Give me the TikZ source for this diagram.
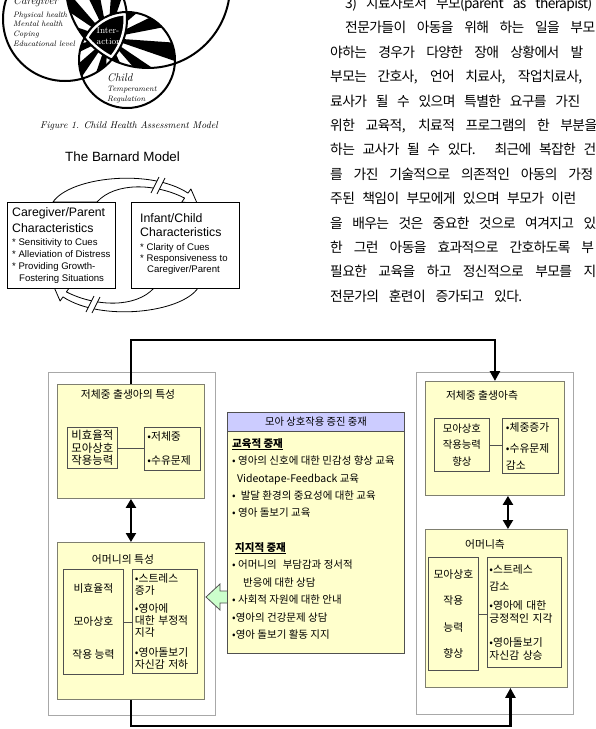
\documentclass[tikz,border=0pt]{standalone}
\usepackage{fontspec}
\usepackage{xcolor}
\usepackage{tikz}
\usetikzlibrary{arrows.meta,positioning,calc}
\newfontfamily\kr{Noto Sans CJK KR}
\newfontfamily\krtight[LetterSpace=-4.5]{Noto Sans CJK KR}
\newfontfamily\arl{Liberation Sans}
\definecolor{notepaper}{HTML}{FFFFCC}
\definecolor{noteedge}{HTML}{7F7F70}
\definecolor{celledge}{HTML}{505050}
\definecolor{wrapedge}{HTML}{A8A8A8}
\definecolor{headlilac}{HTML}{CCCCFF}
\definecolor{mint}{HTML}{CCFFCC}
\newcommand{\bodytext}[2]{\makebox[#1][s]{#2}}

\begin{document}
\begin{tikzpicture}[x=1pt,y=-1pt,
  wrapbox/.style={draw=wrapedge,fill=white,line width=0.9pt,anchor=north west,inner sep=0pt},
  notebox/.style={draw=noteedge,fill=notepaper,line width=0.9pt,anchor=north west,inner sep=0pt},
  cellbox/.style={draw=celledge,line width=0.8pt,anchor=north west,inner sep=0pt},
  kor/.style={anchor=base,inner sep=0pt,font=\kr\fontsize{10.8}{13}\selectfont},
  korline/.style={anchor=base west,inner sep=0pt,font=\kr\fontsize{10.5}{13}\selectfont},
  bodyline/.style={anchor=base west,inner sep=0pt,font=\krtight\fontsize{13.8}{15}\selectfont},
  flow/.style={line width=2.8pt,-{Triangle[length=10pt,width=10pt]}},
  twoway/.style={line width=2.8pt,{Triangle[length=9pt,width=10pt]}-{Triangle[length=9pt,width=10pt]}},
  tie/.style={draw=celledge,line width=0.8pt},
  loopband/.style={draw=black,fill=white,line width=0.8pt,line join=round},
  cbox/.style={draw=black,fill=white,line width=1pt,minimum width=108pt,minimum height=86pt,inner sep=0pt},
  ctitle/.style={anchor=base west,inner sep=0pt,font=\arl\fontsize{12.3}{15}\selectfont},
  citem/.style={anchor=base west,inner sep=0pt,font=\arl\fontsize{9.6}{12}\selectfont},
  vsmall/.style={anchor=base west,inner sep=0pt,font=\itshape\fontsize{7.8}{9}\selectfont},
  vbig/.style={anchor=base west,inner sep=0pt,font=\itshape\fontsize{11.2}{13}\selectfont}]
\useasboundingbox (0,0) rectangle (595,729);
\clip (0,0) rectangle (595,729);
\fill[white] (0,0) rectangle (595,729);

% three rings with the striped overlaps
\coordinate (cg) at (65,19);
\coordinate (ev) at (148,-14);
\coordinate (ch) at (127,60);
\coordinate (hub) at (108,38);
\foreach \pa/\ra/\pb/\rb in {cg/62/ev/82,cg/62/ch/48,ev/82/ch/48}{
  \begin{scope}
    \clip (\pa) circle[radius=\ra];
    \clip (\pb) circle[radius=\rb];
    \foreach \a in {0,30,...,330}
      \fill (hub) -- +(\a+4:130) -- +(\a+19:130) -- cycle;
  \end{scope}
}
\begin{scope}
  \clip (cg) circle[radius=62];
  \clip (ev) circle[radius=82];
  \clip (ch) circle[radius=48];
  \fill (60,0) rectangle (160,80);
  \draw[white,line width=7pt] (cg) circle[radius=62] (ev) circle[radius=82] (ch) circle[radius=48];
\end{scope}
\draw[line width=2pt] (cg) circle[radius=62] (ev) circle[radius=82] (ch) circle[radius=48];

\node[vbig] (cgname) at (13,4.5) {Caregiver};
\node[vsmall] (cg1) at (13,17) {Physical health};
\node[vsmall] (cg2) at (13,26.5) {Mental health};
\node[vsmall] (cg3) at (13,36) {Coping};
\node[vsmall] (cg4) at (13,46.5) {Educational level};
\node[vbig] (chname) at (107,81) {Child};
\node[vsmall] (ch1) at (107,91.5) {Temperament};
\node[vsmall] (ch2) at (107,101) {Regulation};
\node[anchor=base,inner sep=0pt,white,font=\fontsize{9}{10}\selectfont] (hub1) at (108,33) {Inter-};
\node[anchor=base,inner sep=0pt,white,font=\fontsize{9}{10}\selectfont] (hub2) at (109,44) {action};
\node[anchor=base west,inner sep=0pt,font=\itshape\fontsize{9.8}{12}\selectfont] (fig) at (40,128) {Figure 1. Child Health Assessment Model};

% Barnard model
\node[anchor=base west,inner sep=0pt,font=\arl\fontsize{13.4}{16}\selectfont] (barnard) at (65,161) {The Barnard Model};
\foreach \turn in {0,180}{
  \begin{scope}[rotate around={\turn:(125.5,245)}]
    \path[loopband] (53,202) .. controls (70,177) and (150,168) .. (188,193.1)
      -- (190.9,189) -- (197,203) -- (181.7,202.2) -- (184.6,198.1)
      .. controls (155,183) and (115,182) .. (97,202) -- cycle;
    \fill[white] (151,193) -- (159,177) -- (165,178) -- (157,194) -- cycle;
    \draw[line width=0.8pt] (151,193) -- (159,177) (157,194) -- (165,178);
  \end{scope}
}
\node[cbox] (carebox) at (61,245) {};
\node[cbox] (childbox) at (185,245) {};
\node[ctitle] (care1) at (12,216.7) {Caregiver/Parent};
\node[ctitle] (care2) at (12,232.7) {Characteristics};
\node[citem] (care3) at (12,245.3) {* Sensitivity to Cues};
\node[citem] (care4) at (12,257.3) {* Alleviation of Distress};
\node[citem] (care5) at (12,269.3) {* Providing Growth-};
\node[citem] (care6) at (19,281) {Fostering Situations};
\node[ctitle] (kid1) at (140,222.7) {Infant/Child};
\node[ctitle] (kid2) at (140,236.7) {Characteristics};
\node[citem] (kid3) at (140,250) {* Clarity of Cues};
\node[citem] (kid4) at (140,261.7) {* Responsiveness to};
\node[citem] (kid5) at (147,272.3) {Caregiver/Parent};

% text column
\node[bodyline] (p0) at (345,8.4) {\bodytext{247pt}{3) 치료자로서 부모(parent as therapist)}};
\node[bodyline] (p1) at (345,32.8) {\bodytext{250pt}{전문가들이 아동을 위해 하는 일을 부모}};
\node[bodyline] (p2) at (330,57.2) {\bodytext{253pt}{야하는 경우가 다양한 장애 상황에서 발}};
\node[bodyline] (p3) at (330,81.6) {\bodytext{252pt}{부모는 간호사, 언어 치료사, 작업치료사,}};
\node[bodyline] (p4) at (330,106) {\bodytext{250pt}{료사가 될 수 있으며 특별한 요구를 가진}};
\node[bodyline] (p5) at (330,130.4) {\bodytext{267pt}{위한 교육적, 치료적 프로그램의 한 부분을}};
\node[bodyline] (p6) at (330,154.8) {\bodytext{266pt}{하는 교사가 될 수 있다. 최근에 복잡한 건}};
\node[bodyline] (p7) at (330,179.2) {\bodytext{263pt}{를 가진 기술적으로 의존적인 아동의 가정}};
\node[bodyline] (p8) at (330,203.6) {\bodytext{246pt}{주된 책임이 부모에게 있으며 부모가 이런}};
\node[bodyline] (p9) at (330,228) {\bodytext{266pt}{을 배우는 것은 중요한 것으로 여겨지고 있}};
\node[bodyline] (p10) at (330,252.4) {\bodytext{264pt}{한 그런 아동을 효과적으로 간호하도록 부}};
\node[bodyline] (p11) at (330,276.8) {\bodytext{266pt}{필요한 교육을 하고 정신적으로 부모를 지}};
\node[bodyline] (p12) at (330,301.2) {\bodytext{192pt}{전문가의 훈련이 증가되고 있다.}};

% intervention flow chart
\node[wrapbox,minimum width=167pt,minimum height=343pt] (lwrap) at (48,372) {};
\node[wrapbox,minimum width=157pt,minimum height=342pt] (rwrap) at (416,372) {};
\coordinate (gtip) at (206,597);
\draw[draw=celledge,fill=mint,line width=0.8pt] (gtip) -- +(14,-13) -- +(14,-6) -- +(22,-6)
  -- +(22,6) -- +(14,6) -- +(14,13) -- cycle;
\node[notebox,minimum width=147pt,minimum height=114pt] (lbaby) at (57,384) {};
\node[notebox,minimum width=147pt,minimum height=157pt] (lmom) at (57,542) {};
\node[notebox,minimum width=139pt,minimum height=114pt] (rbaby) at (425,381) {};
\node[notebox,minimum width=142pt,minimum height=158pt] (rmom) at (425,529) {};
\node[notebox,draw=celledge,minimum width=177pt,minimum height=222pt] (midbody) at (227,431) {};
\node[notebox,draw=celledge,fill=headlilac,minimum width=177pt,minimum height=19pt,
  font=\kr\fontsize{10.3}{12}\selectfont] (midhead) at (227,412) {모아 상호작용 증진 중재};

\node[kor] (lbabyT) at (128,398) {저체중 출생아의 특성};
\node[kor] (lmomT) at (123,563) {어머니의 특성};
\node[kor] (rbabyT) at (482,399) {저체중 출생아측};
\node[kor] (rmomT) at (485,548) {어머니측};

\node[cellbox,minimum width=50pt,minimum height=41pt,align=center,
  font=\kr\fontsize{11.4}{12.4}\selectfont] (lineff) at (67,427) {비효율적\\모아상호\\작용능력};
\node[cellbox,minimum width=56pt,minimum height=43pt,align=left,text width=50pt,
  font=\kr\fontsize{10.8}{13}\selectfont] (lprob) at (144,427) {•저체중\\[11pt]•수유문제};
\node[cellbox,minimum width=60pt,minimum height=105pt,align=center,
  font=\kr\fontsize{10.8}{33}\selectfont] (lmeff) at (63,569) {비효율적\\모아상호\\작용 능력};
\node[cellbox,minimum width=65pt,minimum height=104pt,align=left,text width=60pt,
  font=\kr\fontsize{10.8}{12}\selectfont] (lmstress) at (132,569)
  {•스트레스\\증가\\[6pt]•영아에\\대한 부정적\\지각\\[8pt]•영아돌보기\\자신감 저하};
\node[cellbox,minimum width=55pt,minimum height=53pt,align=center,
  font=\kr\fontsize{10.4}{16.5}\selectfont] (rgain) at (434,418) {모아상호\\작용능력\\향상};
\node[cellbox,minimum width=56pt,minimum height=55pt,align=left,text width=49pt,
  font=\kr\fontsize{10.8}{17}\selectfont] (rfeed) at (502,418) {•체중증가\\[4pt]•수유문제\\감소};
\node[cellbox,minimum width=50pt,minimum height=113pt,align=center,
  font=\kr\fontsize{10.8}{26.3}\selectfont] (rmgain) at (428,557) {모아상호\\작용\\능력\\향상};
\node[cellbox,minimum width=74pt,minimum height=110pt,align=left,text width=70pt,
  font=\kr\fontsize{10.8}{13}\selectfont] (rmrelief) at (487,557)
  {•스트레스\\[4pt]감소\\[6pt]•영아에 대한\\긍정적인 지각\\[11pt]•영아돌보기\\자신감 상승};

\draw[tie] (lineff.east) -- (lineff.east -| lprob.west);
\draw[tie] (lmeff.east) -- (lmeff.east -| lmstress.west);
\draw[tie] (rgain.east) -- (rgain.east -| rfeed.west);
\draw[tie] (rmgain.east) -- (rmgain.east -| rmrelief.west);

\node[korline] (edu0) at (232,447) {{\bfseries\underline{교육적 중재}}};
\node[korline] (edu1) at (232,464) {• 영아의 신호에 대한 민감성 향상 교육};
\node[korline] (edu2) at (237,482) {Videotape-Feedback 교육};
\node[korline] (edu3) at (232,499) {•\hspace{5pt}발달 환경의 중요성에 대한 교육};
\node[korline] (edu4) at (232,516) {• 영아 돌보기 교육};
\node[korline] (sup0) at (235,551) {{\bfseries\underline{지지적 중재}}};
\node[korline] (sup1) at (232,568) {• 어머니의\hspace{6pt}부담감과 정서적};
\node[korline] (sup2) at (243,586) {반응에 대한 상담};
\node[korline] (sup3) at (232,603) {• 사회적 자원에 대한 안내};
\node[korline] (sup4) at (232,621) {•영아의 건강문제 상담};
\node[korline] (sup5) at (232,638) {•영아 돌보기 활동 지지};

\draw[flow] (lbaby.north) -- ++(0,-44) -| (rbaby.north);
\draw[flow] (lmom.south) -- ++(0,26) -| ([xshift=14pt]rmom.south);
\draw[twoway] (lbaby.south) -- (lmom.north);
\coordinate (rpair) at ($(rbaby.south)+(13,0)$);
\draw[twoway] (rpair) -- (rpair |- rmom.north);
\end{tikzpicture}
\end{document}
